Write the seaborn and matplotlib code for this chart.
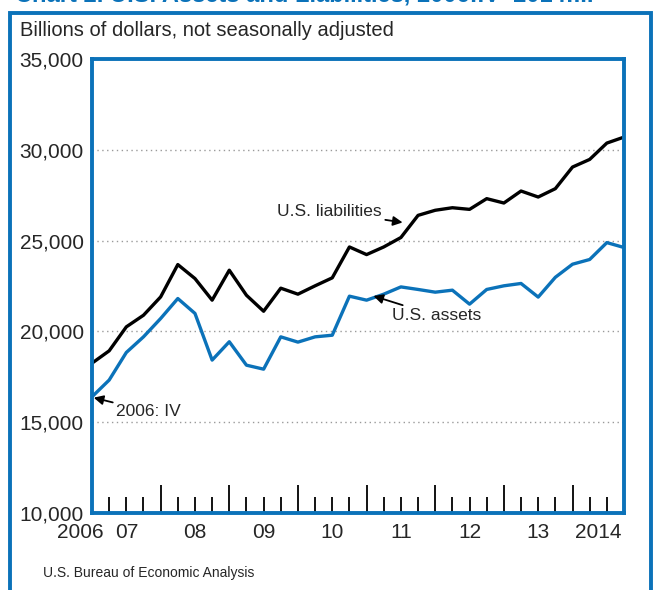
import numpy as np
import pandas as pd
import matplotlib
matplotlib.use('Agg')
import matplotlib.pyplot as plt
import matplotlib.transforms as mtransforms
from matplotlib.patches import Rectangle
import seaborn as sns

# quarterly values, 2006:IV .. 2014:III (billions of dollars)
quarters = ['2006:IV',
            '2007:I', '2007:II', '2007:III', '2007:IV',
            '2008:I', '2008:II', '2008:III', '2008:IV',
            '2009:I', '2009:II', '2009:III', '2009:IV',
            '2010:I', '2010:II', '2010:III', '2010:IV',
            '2011:I', '2011:II', '2011:III', '2011:IV',
            '2012:I', '2012:II', '2012:III', '2012:IV',
            '2013:I', '2013:II', '2013:III', '2013:IV',
            '2014:I', '2014:II', '2014:III']
liabilities = [18250, 18930, 20250, 20890, 21900, 23680, 22910, 21720,
               23370, 21990, 21110, 22380, 22050, 22510, 22950, 24650,
               24230, 24650, 25170, 26390, 26670, 26810, 26720, 27310,
               27070, 27730, 27400, 27860, 29050, 29470, 30370, 30700]
assets = [16400, 17320, 18840, 19700, 20710, 21810, 20990, 18420,
          19430, 18140, 17920, 19700, 19410, 19700, 19790, 21940,
          21720, 22050, 22450, 22310, 22160, 22270, 21500, 22310,
          22510, 22640, 21890, 22980, 23700, 23960, 24890, 24620]
year_labels = ['2006', '07', '08', '09', '10', '11', '12', '13', '2014']
year_label_pos = [-0.7, 2, 6, 10, 14, 18, 22, 26, 29.5]

df = pd.DataFrame({'q': np.arange(len(quarters)),
                   'U.S. liabilities': liabilities,
                   'U.S. assets': assets})

blue = '#0B72B9'
sns.set_style('white')
plt.rcParams['font.family'] = ['Liberation Sans', 'DejaVu Sans']

fig = plt.figure(figsize=(6.53, 5.90), dpi=100)
ax = fig.add_axes([92/653, 1-513/590, 532/653, 454/590])

sns.lineplot(data=df, x='q', y='U.S. liabilities', color='black', lw=2.4, ax=ax)
sns.lineplot(data=df, x='q', y='U.S. assets', color=blue, lw=2.4, ax=ax)

ax.set_xlim(0, len(quarters) - 1)
ax.set_ylim(10000, 35000)
ax.set_xlabel('')
ax.set_ylabel('')

# dotted gridlines
for v in [15000, 20000, 25000, 30000]:
    ax.axhline(v, color='#9a9a9a', lw=1, ls=(0, (1, 2.5)), zorder=0)

ax.set_yticks([10000, 15000, 20000, 25000, 30000, 35000])
ax.set_yticklabels([f'{v:,}' for v in ax.get_yticks().astype(int)], fontsize=15)
ax.tick_params(axis='y', length=0, pad=6)

# year and quarter tick marks inside the bottom
ax.set_xticks([4, 8, 12, 16, 20, 24, 28])
ax.set_xticks([i for i in range(1, 31) if i % 4 != 0], minor=True)
ax.set_xticklabels([])
ax.tick_params(axis='x', which='major', direction='in', length=20, width=1.3,
               color='black', bottom=True)
ax.tick_params(axis='x', which='minor', direction='in', length=11.5, width=1.3,
               color='black', bottom=True)

trans = mtransforms.blended_transform_factory(ax.transData, ax.transAxes)
for lab, pos in zip(year_labels, year_label_pos):
    ax.text(pos, -0.042, lab, transform=trans, ha='center', va='center', fontsize=15)

for s in ax.spines.values():
    s.set_color(blue)
    s.set_linewidth(2.8)
    s.set_visible(True)

# labels with arrows
arrow = dict(arrowstyle='-|>', color='black', lw=1.3, mutation_scale=14, shrinkA=0, shrinkB=0)
ax.annotate('U.S. liabilities', xy=(18.1, 26000), xytext=(16.9, 26600),
            ha='right', va='center', fontsize=12.5, arrowprops=arrow)
ax.annotate('U.S. assets', xy=(16.4, 21950), xytext=(17.5, 20850),
            ha='left', va='center', fontsize=12.5, arrowprops=arrow)
ax.annotate('2006: IV', xy=(0.1, 16350), xytext=(1.4, 15600),
            ha='left', va='center', fontsize=12.5, arrowprops=arrow)

fig.text(20/653, 1-30/590, 'Billions of dollars, not seasonally adjusted',
         ha='left', va='center', fontsize=14.5)
fig.text(43/653, 1-573/590, 'U.S. Bureau of Economic Analysis',
         ha='left', va='center', fontsize=10)
fig.text(15/653, 1-1.5/590, 'Chart 2. U.S. Assets and Liabilities, 2006:IV\u20132014:III',
         ha='left', va='baseline', fontsize=17, fontweight='bold', color=blue)

# outer frame
fig.patches.append(Rectangle((10/653, -0.05), 641/653, 1.05 - 13/590,
                             transform=fig.transFigure, fill=False,
                             edgecolor=blue, lw=2.8))

fig.savefig('out.png', dpi=100)
